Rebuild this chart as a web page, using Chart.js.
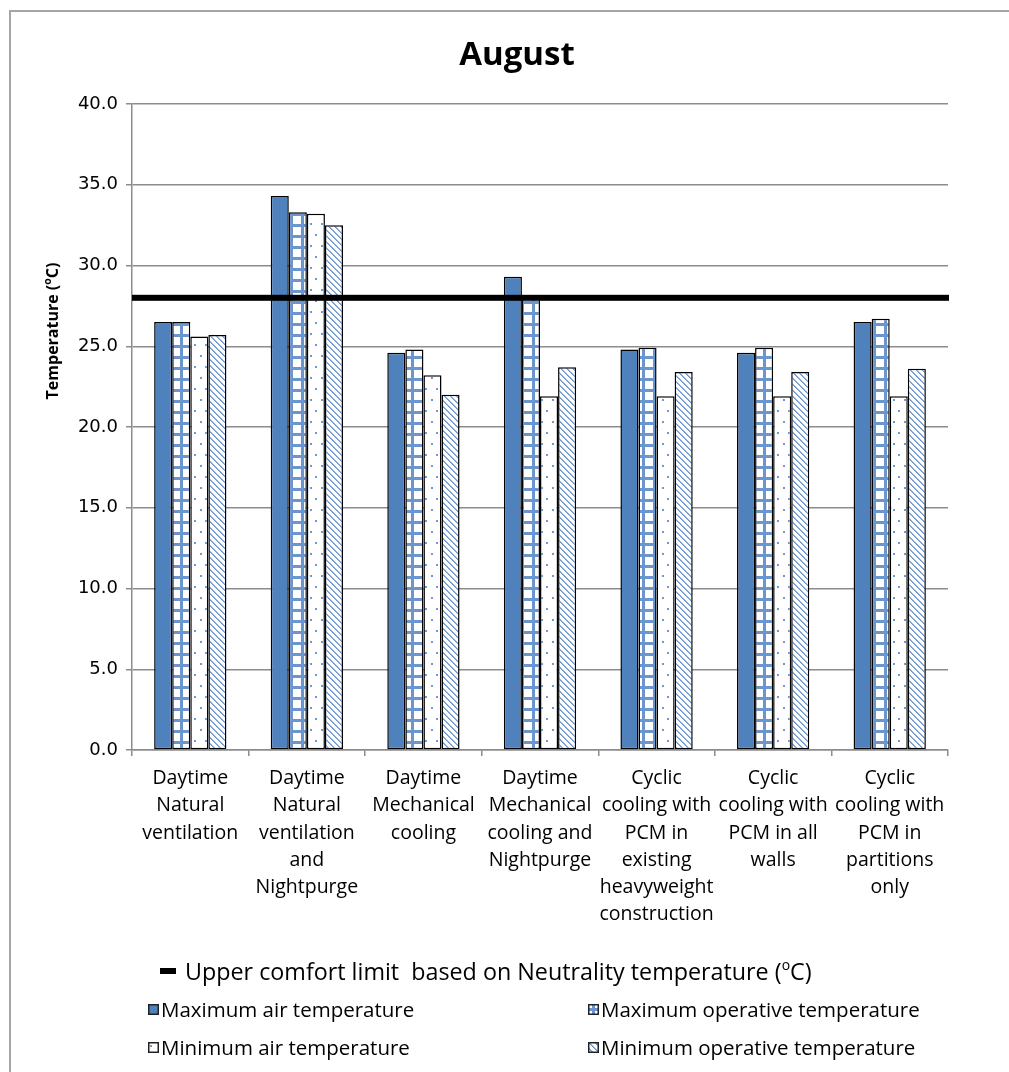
<!DOCTYPE html>
<html><head><meta charset="utf-8">
<script src="https://cdn.jsdelivr.net/npm/chart.js@4.4.0/dist/chart.umd.min.js"></script>
<style>
html,body{margin:0;padding:0;background:#fff;}
#wrap{position:relative;width:1009px;height:1072px;overflow:hidden;background:#fff;}
#frame{position:absolute;left:9px;top:10px;width:1100px;height:1100px;border-left:2px solid #a6a6a6;border-top:2px solid #a6a6a6;pointer-events:none;}
#c{position:absolute;left:0;top:0;}
.leg{position:absolute;font-family:'Open Sans',sans-serif;font-size:20.5px;color:#000;white-space:pre;line-height:24px;height:24px;display:flex;align-items:center;}
.leg canvas{display:block;margin-right:2px;}
.leg sup{font-size:0.6em;line-height:0;position:relative;top:-1px;vertical-align:super;}
#legLine{font-size:23.3px;}
.lineMark{width:16px;height:6px;background:#000;margin-right:9px;}
</style>
</head><body>
<div id="wrap">
  <canvas id="c" width="1009" height="1072"></canvas>
  <div id="frame"></div>
  <div class="leg" id="legLine" style="left:160px;top:959px;"><div class="lineMark"></div><span id="legLineText"></span></div>
  <div class="leg" id="leg0" style="left:148px;top:997px;"></div>
  <div class="leg" id="leg1" style="left:588px;top:997px;"></div>
  <div class="leg" id="leg2" style="left:148px;top:1035px;"></div>
  <div class="leg" id="leg3" style="left:588px;top:1035px;"></div>
</div>
<script>
// ---- data ----
const chartTitle = 'August';
const categories = [
  ['Daytime','Natural','ventilation'],
  ['Daytime','Natural','ventilation','and','Nightpurge'],
  ['Daytime','Mechanical','cooling'],
  ['Daytime','Mechanical','cooling and','Nightpurge'],
  ['Cyclic','cooling with','PCM in','existing','heavyweight','construction'],
  ['Cyclic','cooling with','PCM in all','walls'],
  ['Cyclic','cooling with','PCM in','partitions','only']
];
const seriesNames = ['Maximum air temperature','Maximum operative temperature','Minimum air temperature','Minimum operative temperature'];
const maxAir = [26.5, 34.3, 24.6, 29.3, 24.8, 24.6, 26.5];
const maxOperative = [26.5, 33.3, 24.8, 28.1, 24.9, 24.9, 26.7];
const minAir = [25.6, 33.2, 23.2, 21.9, 21.9, 21.9, 21.9];
const minOperative = [25.7, 32.5, 22.0, 23.7, 23.4, 23.4, 23.6];
const comfortLimit = 28.0;
const comfortLabelParts = ['Upper comfort limit  based on Neutrality temperature (', 'o', 'C)'];
const yTitleParts = ['Temperature (', 'o', 'C)'];
const yMin = 0, yMax = 40, yStep = 5;

// ---- patterns ----
const BLUE = '#4f81bd';
function patternCanvas(kind){
  const c = document.createElement('canvas');
  let w, h;
  if (kind === 'grid') { w = 11; h = 11; }
  else if (kind === 'dots') { w = 11; h = 22; }
  else { w = 6; h = 6; }
  c.width = w; c.height = h;
  const x = c.getContext('2d');
  x.fillStyle = '#fff'; x.fillRect(0,0,w,h);
  if (kind === 'grid') {
    x.fillStyle = '#6a95ce';
    x.fillRect(4,0,3,h);
    x.fillRect(0,4,w,3);
  } else if (kind === 'dots') {
    x.fillStyle = '#6f99d2';
    x.fillRect(2,3,2,2);
    x.fillRect(7,14,2,2);
  } else {
    const img = x.getImageData(0,0,w,h);
    for (let yy=0; yy<h; yy++) for (let xx=0; xx<w; xx++) {
      const d = ((xx - yy) % 6 + 6) % 6;
      const i = (yy*w+xx)*4;
      if (d === 0) { img.data[i]=0x6a; img.data[i+1]=0x95; img.data[i+2]=0xce; }
      else if (d === 1) { img.data[i]=0x95; img.data[i+1]=0xb5; img.data[i+2]=0xe0; }
    }
    x.putImageData(img,0,0);
  }
  return c;
}
const ctx = document.getElementById('c').getContext('2d');
const pGrid = ctx.createPattern(patternCanvas('grid'), 'repeat');
const pDots = ctx.createPattern(patternCanvas('dots'), 'repeat');
const pDiag = ctx.createPattern(patternCanvas('diag'), 'repeat');
const fills = [BLUE, pGrid, pDots, pDiag];
const fillKinds = ['solid','grid','dots','diag'];

// ---- legend (HTML) ----
document.getElementById('legLineText').innerHTML = comfortLabelParts[0] + '<sup>' + comfortLabelParts[1] + '</sup>' + comfortLabelParts[2];
seriesNames.forEach((name, i) => {
  const el = document.getElementById('leg' + i);
  const sw = document.createElement('canvas');
  sw.width = 11; sw.height = 11;
  const s = sw.getContext('2d');
  if (fillKinds[i] === 'solid') s.fillStyle = BLUE; else s.fillStyle = s.createPattern(patternCanvas(fillKinds[i]), 'repeat');
  s.fillRect(0,0,11,11);
  s.strokeStyle = '#222'; s.lineWidth = 1.5; s.strokeRect(0.75,0.75,9.5,9.5);
  el.appendChild(sw);
  const t = document.createElement('span'); t.textContent = name; el.appendChild(t);
});

// ---- plugins ----
const comfortLinePlugin = {
  id: 'comfortLine',
  afterDatasetsDraw(chart) {
    const y = chart.scales.y.getPixelForValue(comfortLimit);
    const a = chart.chartArea;
    const c = chart.ctx;
    c.save();
    c.fillStyle = '#000';
    c.fillRect(a.left, y - 3, a.right - a.left + 1, 6);
    c.restore();
  }
};
const titlesPlugin = {
  id: 'titles',
  afterDraw(chart) {
    const c = chart.ctx;
    c.save();
    c.fillStyle = '#000';
    c.textAlign = 'center';
    c.textBaseline = 'middle';
    c.font = "bold 33px 'Open Sans'";
    c.fillText(chartTitle, 517, 56);
    c.translate(53, 331);
    c.rotate(-Math.PI/2);
    const big = "bold 16px 'Open Sans'", small = "bold 10.5px 'Open Sans'";
    c.font = big; const w0 = c.measureText(yTitleParts[0]).width, w2 = c.measureText(yTitleParts[2]).width;
    c.font = small; const w1 = c.measureText(yTitleParts[1]).width;
    let x0 = -(w0 + w1 + w2) / 2;
    c.textAlign = 'left';
    c.font = big; c.fillText(yTitleParts[0], x0, 0);
    c.font = small; c.fillText(yTitleParts[1], x0 + w0, -5);
    c.font = big; c.fillText(yTitleParts[2], x0 + w0 + w1, 0);
    c.restore();
  }
};

const seriesData = [maxAir, maxOperative, minAir, minOperative];
new Chart(ctx, {
  type: 'bar',
  data: {
    labels: categories,
    datasets: seriesNames.map((n, i) => ({
      label: n,
      data: seriesData[i],
      backgroundColor: fills[i],
      borderColor: '#000',
      borderWidth: 1.5,
      borderSkipped: false,
      categoryPercentage: 0.62,
      barPercentage: 1.0
    }))
  },
  options: {
    responsive: false,
    animation: false,
    devicePixelRatio: 1,
    layout: { padding: { left: 0, right: 61, top: 104, bottom: 132 } },
    plugins: {
      legend: { display: false },
      tooltip: { enabled: false },
      title: { display: false }
    },
    scales: {
      x: {
        afterFit: s => { s.height = 190; },
        grid: { display: true, drawOnChartArea: false, drawTicks: true, tickLength: 6, color: '#8c8c8c', lineWidth: 1.5, offset: true },
        border: { display: true, color: '#8c8c8c', width: 1.5 },
        ticks: { color: '#000', padding: 9, maxRotation: 0, autoSkip: false,
          font: { family: 'Open Sans', size: 19.5, lineHeight: 1.395 } }
      },
      y: {
        min: yMin, max: yMax,
        afterFit: s => { s.width = 132; },
        grid: { color: '#8c8c8c', lineWidth: 1.5, tickLength: 6, drawTicks: true },
        border: { display: true, color: '#8c8c8c', width: 1.5 },
        ticks: { stepSize: yStep, color: '#000', padding: 8,
          font: { family: 'DejaVu Sans', size: 18 },
          callback: v => Number(v).toFixed(1) }
      }
    }
  },
  plugins: [comfortLinePlugin, titlesPlugin]
});
</script>
</body></html>
